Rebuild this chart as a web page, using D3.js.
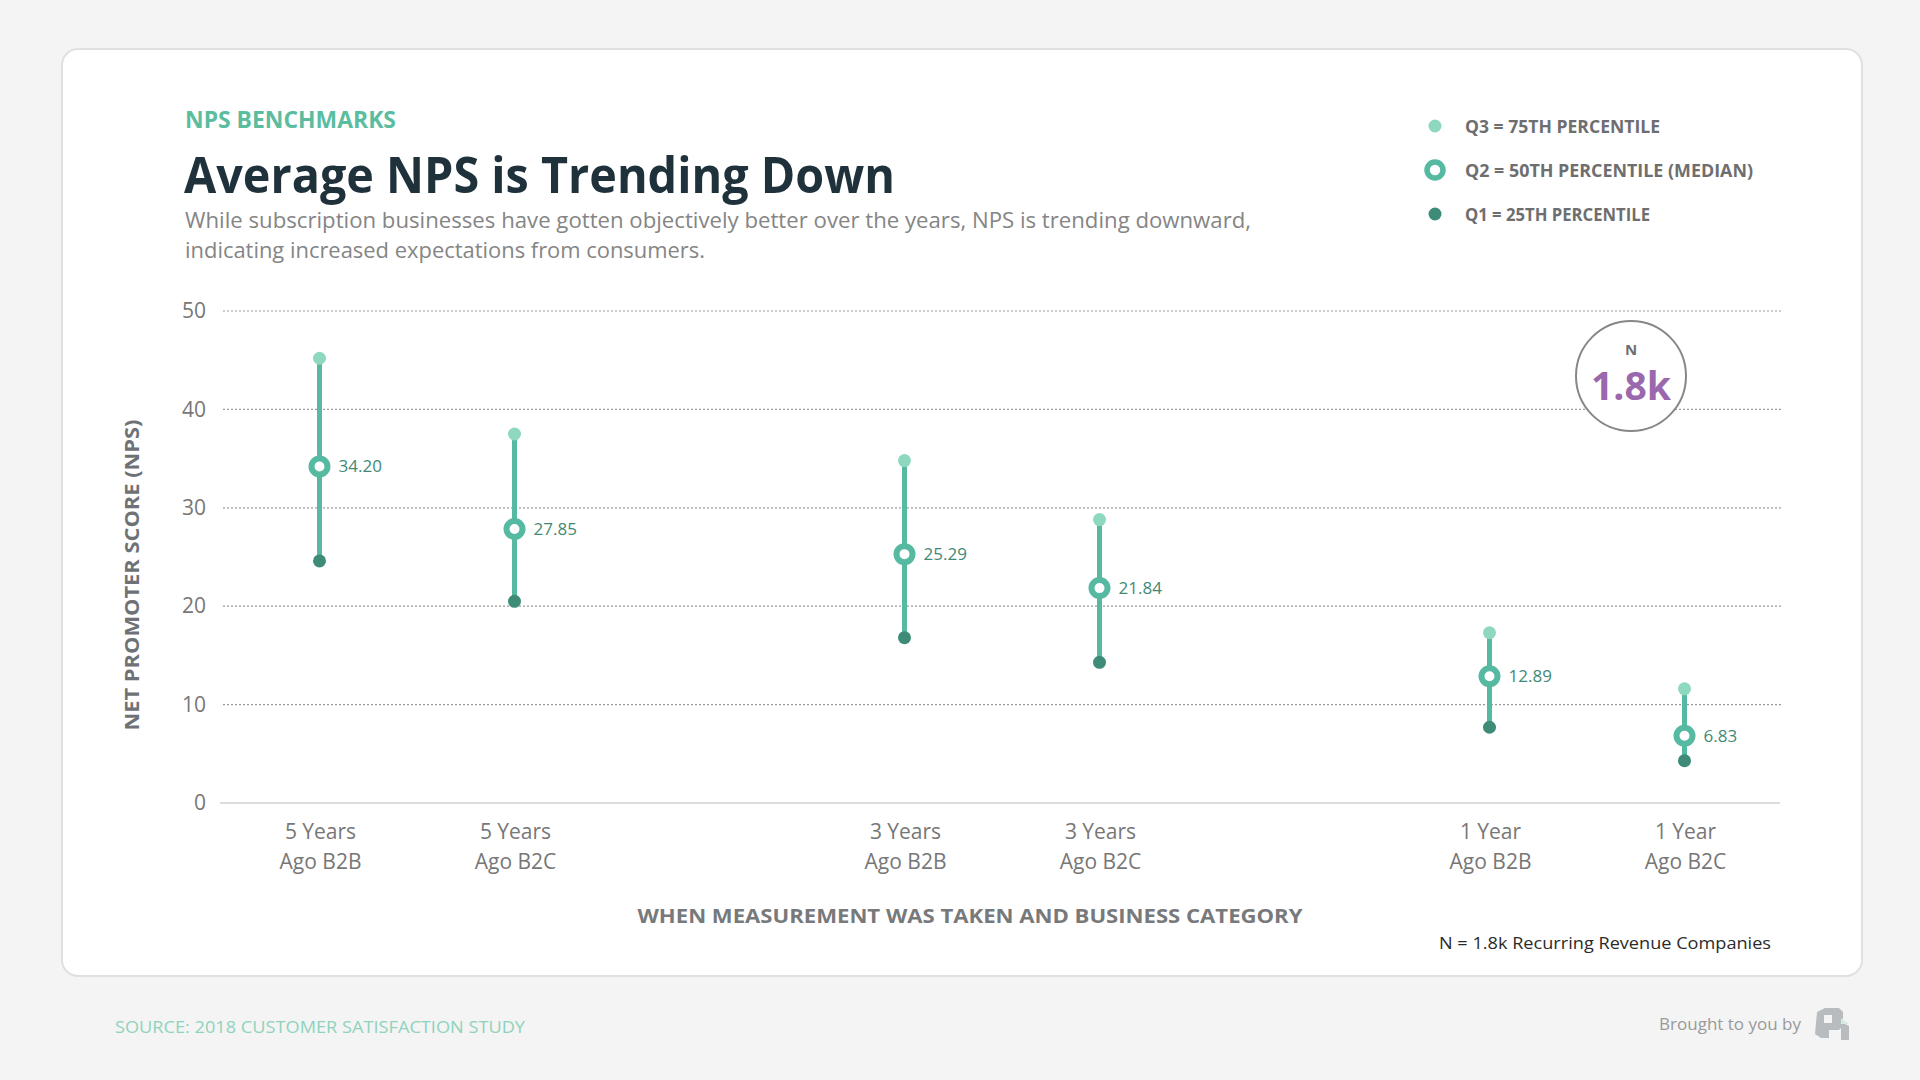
<!DOCTYPE html>
<html>
<head>
<meta charset="utf-8">
<script src="https://cdn.jsdelivr.net/npm/d3@7"></script>
<style>
  body { margin: 0; background: #f4f4f4; }
  svg { display: block; font-family: "Open Sans", sans-serif; }
</style>
</head>
<body>
<svg width="1920" height="1080"></svg>
<script>
// categories, in order; empty slots give the gaps between year groups
var slots = ['5y-b2b', '5y-b2c', 'gap1', '3y-b2b', '3y-b2c', 'gap2', '1y-b2b', '1y-b2c'];
var categories = ['5y-b2b', '5y-b2c', '3y-b2b', '3y-b2c', '1y-b2b', '1y-b2c'];
var catLine1 = ['5 Years', '5 Years', '3 Years', '3 Years', '1 Year', '1 Year'];
var catLine2 = ['Ago B2B', 'Ago B2C', 'Ago B2B', 'Ago B2C', 'Ago B2B', 'Ago B2C'];
var q3 = [45.2, 37.5, 34.8, 28.8, 17.3, 11.6];
var q2 = [34.20, 27.85, 25.29, 21.84, 12.89, 6.83];
var q1 = [24.6, 20.5, 16.8, 14.3, 7.7, 4.3];
var yTicks = [0, 10, 20, 30, 40, 50];
var legendLabels = ['Q3 = 75TH PERCENTILE', 'Q2 = 50TH PERCENTILE (MEDIAN)', 'Q1 = 25TH PERCENTILE'];

var C_LINE = '#56b9a1', C_Q3 = '#8ed8bf', C_Q1 = '#3e8c78', C_LABEL = '#3f8a76';

var svg = d3.select('svg');

// card
svg.append('rect')
  .attr('x', 62).attr('y', 49).attr('width', 1800).attr('height', 927)
  .attr('rx', 16).attr('fill', '#fff').attr('stroke', '#e0e0e0').attr('stroke-width', 2);

// header
svg.append('text').attr('x', 185).attr('y', 128)
  .attr('fill', '#5bbd9f').attr('font-size', 23).attr('font-weight', 700)
  .attr('textLength', 211).attr('lengthAdjust', 'spacingAndGlyphs')
  .text('NPS BENCHMARKS');
svg.append('text').attr('x', 184).attr('y', 193)
  .attr('fill', '#1f313b').attr('font-size', 50).attr('font-weight', 700)
  .attr('textLength', 711).attr('lengthAdjust', 'spacingAndGlyphs')
  .text('Average NPS is Trending Down');
svg.append('text').attr('x', 185).attr('y', 228)
  .attr('fill', '#858585').attr('font-size', 22)
  .attr('textLength', 1066).attr('lengthAdjust', 'spacingAndGlyphs')
  .text('While subscription businesses have gotten objectively better over the years, NPS is trending downward,');
svg.append('text').attr('x', 185).attr('y', 258)
  .attr('fill', '#858585').attr('font-size', 22)
  .attr('textLength', 520).attr('lengthAdjust', 'spacingAndGlyphs')
  .text('indicating increased expectations from consumers.');

// legend
var legend = svg.append('g').selectAll('g').data(legendLabels).join('g')
  .attr('transform', function(d, i) { return 'translate(1435,' + (126 + i * 44) + ')'; });
legend.each(function(d, i) {
  var g = d3.select(this);
  if (i === 1) {
    g.append('circle').attr('r', 8).attr('fill', '#fff').attr('stroke', C_LINE).attr('stroke-width', 5.5);
  } else {
    g.append('circle').attr('r', 6.5).attr('fill', i === 0 ? C_Q3 : C_Q1);
  }
});
legend.append('text').attr('x', 30).attr('y', 6.5)
  .attr('fill', '#6e6e70').attr('font-size', 17).attr('font-weight', 700)
  .attr('textLength', function(d, i) { return [195, 288, 185][i]; })
  .attr('lengthAdjust', 'spacingAndGlyphs')
  .text(function(d) { return d; });

// scales
var x = d3.scaleBand().domain(slots).range([222, 1782]).padding(0);
var cx = function(k) { return x(k) + x.bandwidth() / 2; };
var y = d3.scaleLinear().domain([0, 50]).range([803, 311]);

// grid + y axis
var yAxis = svg.append('g').attr('transform', 'translate(223,0)')
  .call(d3.axisLeft(y).tickValues(yTicks).tickSize(0).tickPadding(17));
yAxis.select('.domain').remove();
yAxis.selectAll('text').attr('fill', '#777').attr('font-size', 21).attr('font-family', '"Open Sans", sans-serif');
svg.append('g').selectAll('line').data(yTicks.filter(function(t) { return t > 0; })).join('line')
  .attr('x1', 223).attr('x2', 1782)
  .attr('y1', function(d) { return y(d); }).attr('y2', function(d) { return y(d); })
  .attr('stroke', '#9a9a9a').attr('stroke-width', 1.2).attr('stroke-dasharray', '2,2');
svg.append('line').attr('x1', 220).attr('x2', 1780).attr('y1', y(0)).attr('y2', y(0))
  .attr('stroke', '#dcdcdc').attr('stroke-width', 2);

// N badge
svg.append('circle').attr('cx', 1631).attr('cy', 376).attr('r', 55)
  .attr('fill', '#fff').attr('stroke', '#85878a').attr('stroke-width', 2);
svg.append('text').attr('x', 1631).attr('y', 355).attr('text-anchor', 'middle')
  .attr('fill', '#6e6e70').attr('font-size', 15).attr('font-weight', 700).text('N');
svg.append('text').attr('x', 1631).attr('y', 400).attr('text-anchor', 'middle')
  .attr('fill', '#9a68ad').attr('font-size', 40).attr('font-weight', 700)
  .attr('textLength', 80).attr('lengthAdjust', 'spacingAndGlyphs').text('1.8k');

// ranges
var rows = categories.map(function(k, i) { return { k: k, q1: q1[i], q2: q2[i], q3: q3[i] }; });
var marks = svg.append('g').selectAll('g').data(rows).join('g');
marks.append('line')
  .attr('x1', function(d) { return cx(d.k); }).attr('x2', function(d) { return cx(d.k); })
  .attr('y1', function(d) { return y(d.q3); }).attr('y2', function(d) { return y(d.q1); })
  .attr('stroke', C_LINE).attr('stroke-width', 5);
marks.append('circle').attr('r', 6.5).attr('fill', C_Q3)
  .attr('cx', function(d) { return cx(d.k); }).attr('cy', function(d) { return y(d.q3); });
marks.append('circle').attr('r', 6.5).attr('fill', C_Q1)
  .attr('cx', function(d) { return cx(d.k); }).attr('cy', function(d) { return y(d.q1); });
marks.append('circle').attr('r', 8).attr('fill', '#fff').attr('stroke', C_LINE).attr('stroke-width', 6)
  .attr('cx', function(d) { return cx(d.k); }).attr('cy', function(d) { return y(d.q2); });
marks.append('text')
  .attr('x', function(d) { return cx(d.k) + 19; }).attr('y', function(d) { return y(d.q2) + 6; })
  .attr('fill', C_LABEL).attr('font-size', 17)
  .text(function(d) { return d.q2.toFixed(2); });

// x labels
var xl = svg.append('g').selectAll('text').data(categories).join('text')
  .attr('text-anchor', 'middle').attr('fill', '#777').attr('font-size', 21)
  .attr('transform', function(d) { return 'translate(' + (cx(d) + 1) + ',0)'; });
xl.append('tspan').attr('x', 0).attr('y', 839).text(function(d, i) { return catLine1[i]; });
xl.append('tspan').attr('x', 0).attr('y', 869).text(function(d, i) { return catLine2[i]; });

// axis titles
svg.append('text').attr('transform', 'translate(139,575) rotate(-90)')
  .attr('text-anchor', 'middle').attr('fill', '#6e7276').attr('font-size', 20).attr('font-weight', 700)
  .attr('textLength', 311).attr('lengthAdjust', 'spacingAndGlyphs')
  .text('NET PROMOTER SCORE (NPS)');
svg.append('text').attr('x', 970).attr('y', 923).attr('text-anchor', 'middle')
  .attr('fill', '#77797b').attr('font-size', 20).attr('font-weight', 700)
  .attr('textLength', 665).attr('lengthAdjust', 'spacingAndGlyphs')
  .text('WHEN MEASUREMENT WAS TAKEN AND BUSINESS CATEGORY');
svg.append('text').attr('x', 1771).attr('y', 949).attr('text-anchor', 'end')
  .attr('fill', '#2b2b2b').attr('font-size', 17)
  .attr('textLength', 332).attr('lengthAdjust', 'spacingAndGlyphs')
  .text('N = 1.8k Recurring Revenue Companies');

// footer
svg.append('text').attr('x', 115).attr('y', 1033)
  .attr('fill', '#8fd3bc').attr('font-size', 17)
  .attr('textLength', 410).attr('lengthAdjust', 'spacingAndGlyphs')
  .text('SOURCE: 2018 CUSTOMER SATISFACTION STUDY');
svg.append('text').attr('x', 1801).attr('y', 1030).attr('text-anchor', 'end')
  .attr('fill', '#9a9a9a').attr('font-size', 17)
  .text('Brought to you by');
var logo = svg.append('g').attr('transform', 'translate(1815,1008)');
logo.append('path').attr('d', 'M2,4 L10,0 L24,0 L28,4 L28,18 L24,22 L14,22 L14,30 L6,30 L0,26 Z').attr('fill', '#b9bcbe');
logo.append('rect').attr('x', 9).attr('y', 7).attr('width', 8).attr('height', 8).attr('fill', '#f4f4f4');
logo.append('path').attr('d', 'M26,14 L34,18 L34,32 L26,32 Z').attr('fill', '#b9bcbe');
logo.append('path').attr('d', 'M26,10 L34,16 L26,16 Z').attr('fill', '#d5ebe4');
</script>
</body>
</html>
